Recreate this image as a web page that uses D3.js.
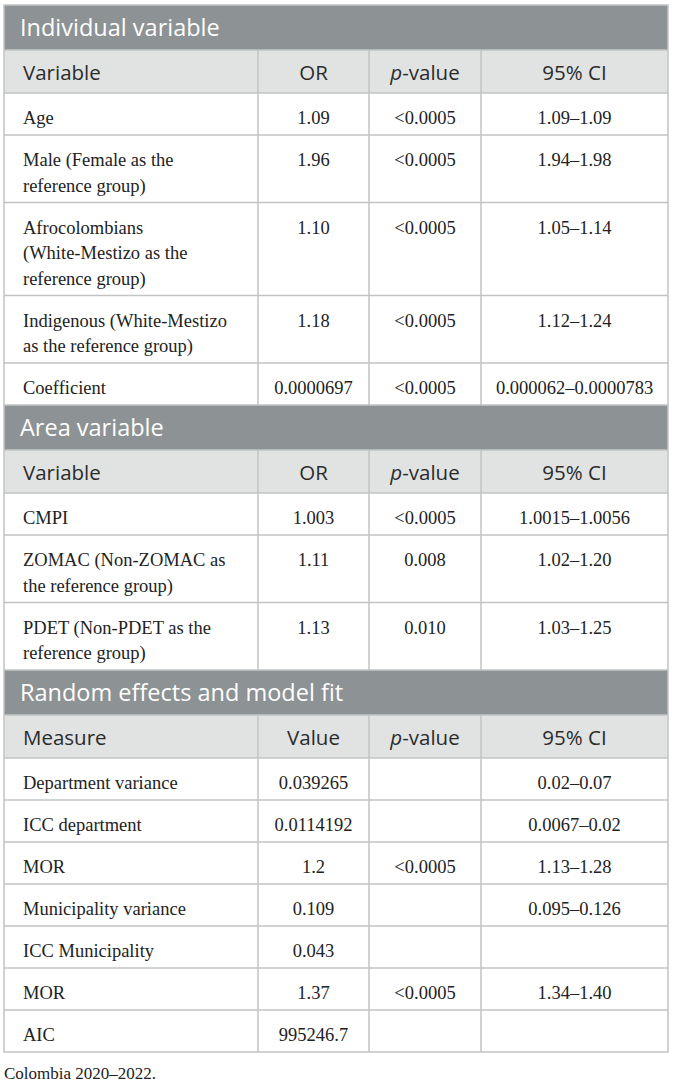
<!DOCTYPE html>
<html>
<head>
<meta charset="utf-8">
<script src="https://cdn.jsdelivr.net/npm/d3@7"></script>
<style>
  body { margin: 0; background: #fff; }
  svg { display: block; }
</style>
</head>
<body>
<svg id="table"></svg>
<script>
// ---- data ----
const sectionTitles = ['Individual variable', 'Area variable', 'Random effects and model fit'];
const headerCols = [
  ['Variable', 'OR', 'p-value', '95% CI'],
  ['Variable', 'OR', 'p-value', '95% CI'],
  ['Measure', 'Value', 'p-value', '95% CI']
];

const individualLabels = [
  'Age',
  'Male (Female as the\nreference group)',
  'Afrocolombians\n(White-Mestizo as the\nreference group)',
  'Indigenous (White-Mestizo\nas the reference group)',
  'Coefficient'
];
const individualOR = ['1.09', '1.96', '1.10', '1.18', '0.0000697'];
const individualP = ['<0.0005', '<0.0005', '<0.0005', '<0.0005', '<0.0005'];
const individualCI = ['1.09–1.09', '1.94–1.98', '1.05–1.14', '1.12–1.24', '0.000062–0.0000783'];

const areaLabels = [
  'CMPI',
  'ZOMAC (Non-ZOMAC as\nthe reference group)',
  'PDET (Non-PDET as the\nreference group)'
];
const areaOR = ['1.003', '1.11', '1.13'];
const areaP = ['<0.0005', '0.008', '0.010'];
const areaCI = ['1.0015–1.0056', '1.02–1.20', '1.03–1.25'];

const randomLabels = [
  'Department variance', 'ICC department', 'MOR', 'Municipality variance',
  'ICC Municipality', 'MOR', 'AIC'
];
const randomValue = ['0.039265', '0.0114192', '1.2', '0.109', '0.043', '1.37', '995246.7'];
const randomP = ['', '', '<0.0005', '', '', '<0.0005', ''];
const randomCI = ['0.02–0.07', '0.0067–0.02', '1.13–1.28', '0.095–0.126', '', '1.34–1.40', ''];

const footnote = 'Colombia 2020–2022.';

// ---- layout ----
const width = 674, height = 1087;
const colEdges = [4, 258, 369, 481, 668];
const bandH = 45, headH = 43, rowBase = 16.5, lineH = 25.5;
const padLeft = 19;

const svg = d3.select('#table')
    .attr('width', width)
    .attr('height', height);

const sectionRows = [
  d3.zip(individualLabels, individualOR, individualP, individualCI),
  d3.zip(areaLabels, areaOR, areaP, areaCI),
  d3.zip(randomLabels, randomValue, randomP, randomCI)
];

// build a flat list of blocks with cumulative y positions
let blocks = [];
let y = 5;
sectionTitles.forEach((title, si) => {
  blocks.push({type: 'band', y: y, h: bandH, cells: [title]});
  y += bandH;
  blocks.push({type: 'head', y: y, h: headH, cells: headerCols[si]});
  y += headH;
  sectionRows[si].forEach(r => {
    const n = r[0].split('\n').length;
    const h = rowBase + lineH * n;
    blocks.push({type: 'row', y: y, h: h, cells: r});
    y += h;
  });
});
const tableBottom = y;

const colCenter = i => (colEdges[i] + colEdges[i + 1]) / 2;

const g = svg.append('g');

// backgrounds
g.selectAll('.bg')
    .data(blocks)
  .join('rect')
    .attr('class', 'bg')
    .attr('x', colEdges[0])
    .attr('y', d => d.y)
    .attr('width', colEdges[4] - colEdges[0])
    .attr('height', d => d.h)
    .attr('fill', d => d.type === 'band' ? '#8d9294' : d.type === 'head' ? '#e1e3e3' : '#ffffff');

// horizontal rules between blocks
g.selectAll('.hline')
    .data(blocks.slice(1))
  .join('line')
    .attr('class', 'hline')
    .attr('x1', colEdges[0])
    .attr('x2', colEdges[4])
    .attr('y1', d => d.y)
    .attr('y2', d => d.y)
    .attr('stroke', '#c2c4c4')
    .attr('stroke-width', 1.5);

// vertical column rules, skipping section bands
blocks.filter(d => d.type !== 'band').forEach(d => {
  g.selectAll(null)
      .data(colEdges.slice(1, 4))
    .join('line')
      .attr('x1', x => x)
      .attr('x2', x => x)
      .attr('y1', d.y)
      .attr('y2', d.y + d.h)
      .attr('stroke', '#c2c4c4')
      .attr('stroke-width', 1.5);
});

// outer border
g.append('rect')
    .attr('x', colEdges[0])
    .attr('y', 5)
    .attr('width', colEdges[4] - colEdges[0])
    .attr('height', tableBottom - 5)
    .attr('fill', 'none')
    .attr('stroke', '#c2c4c4')
    .attr('stroke-width', 1.5);

// section titles
g.selectAll('.band-title')
    .data(blocks.filter(d => d.type === 'band'))
  .join('text')
    .attr('class', 'band-title')
    .attr('x', colEdges[0] + 16)
    .attr('y', d => d.y + 31)
    .attr('font-family', '"Open Sans", sans-serif')
    .attr('font-size', 23.5)
    .attr('fill', '#ffffff')
    .text(d => d.cells[0]);

// header cells
blocks.filter(d => d.type === 'head').forEach(d => {
  d.cells.forEach((c, i) => {
    const t = g.append('text')
        .attr('x', i === 0 ? colEdges[0] + padLeft : colCenter(i))
        .attr('y', d.y + 30)
        .attr('text-anchor', i === 0 ? 'start' : 'middle')
        .attr('font-family', '"Open Sans", sans-serif')
        .attr('font-size', 20.5)
        .attr('fill', '#2b2b2b');
    if (c === 'p-value') {
      t.append('tspan').attr('font-style', 'italic').text('p');
      t.append('tspan').text('-value');
    } else {
      t.text(c);
    }
  });
});

// body cells
blocks.filter(d => d.type === 'row').forEach(d => {
  d.cells.forEach((c, i) => {
    if (!c) return;
    const t = g.append('text')
        .attr('x', i === 0 ? colEdges[0] + padLeft : colCenter(i))
        .attr('y', d.y + 31)
        .attr('text-anchor', i === 0 ? 'start' : 'middle')
        .attr('font-family', '"Liberation Serif", serif')
        .attr('font-size', 18.5)
        .attr('fill', '#222222');
    c.split('\n').forEach((line, li) => {
      t.append('tspan')
          .attr('x', i === 0 ? colEdges[0] + padLeft : colCenter(i))
          .attr('dy', li === 0 ? 0 : lineH)
          .text(line);
    });
  });
});

// footnote
svg.append('text')
    .attr('x', colEdges[0])
    .attr('y', tableBottom + 27)
    .attr('font-family', '"Liberation Serif", serif')
    .attr('font-size', 17)
    .attr('fill', '#222222')
    .text(footnote);
</script>
</body>
</html>
